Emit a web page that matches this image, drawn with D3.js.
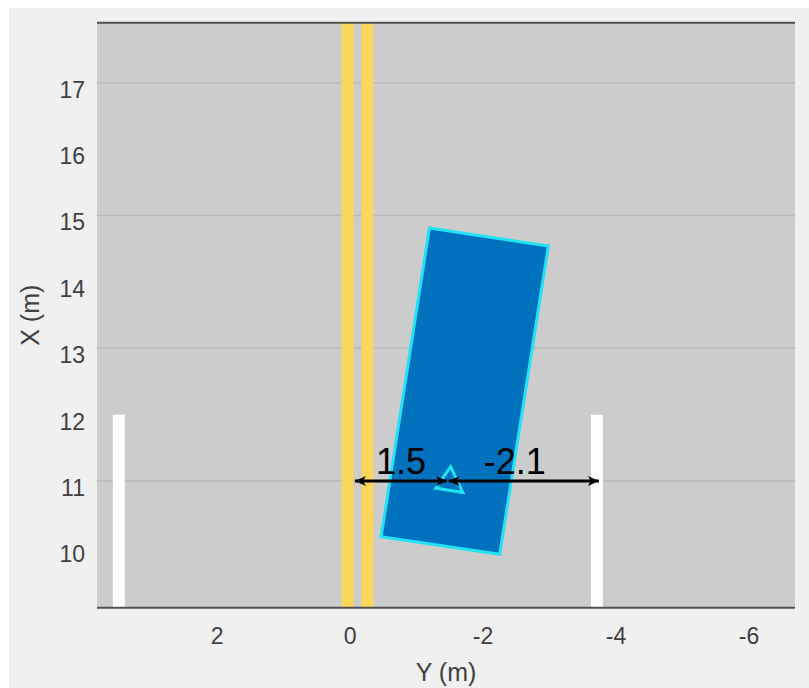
<!DOCTYPE html>
<html><head><meta charset="utf-8">
<script src="https://cdn.jsdelivr.net/npm/d3@7"></script>
<style>
html,body{margin:0;padding:0;background:#fff;}
svg{display:block;font-family:"Liberation Sans",Arial,sans-serif;}
</style></head>
<body>
<script>
// ---- data ----
const yTicks = [2, 0, -2, -4, -6];             // lateral Y (m), horizontal axis
const xTicks = [10, 11, 12, 13, 14, 15, 16, 17]; // longitudinal X (m), vertical axis
const gridX = [11, 13, 15, 17];
const yLimits = [3.80, -6.70];
const xLimits = [9.093, 17.903];
// yellow centre lines (lateral centre positions, m)
const yellowY = [0.03, -0.27];
const markingHalfWidth = 0.09;
// white lane boundaries
const whiteY = [3.472, -3.72];
const whiteTopX = 12.0;
// vehicle outline corners [Y, X]
const vehicleY = [-1.20, -2.99, -2.258, -0.474];
const vehicleX = [14.81, 14.54, 9.897, 10.16];
// heading triangle [Y, X]
const triY = [-1.52, -1.296, -1.703];
const triX = [11.217, 10.895, 10.827];
// distance arrows
const arrowX = 11;
const arrowFromY = [-0.08, -1.49];
const arrowToY = [-1.465, -3.75];
const arrowLabels = ["1.5", "-2.1"];
const labelY = [-0.775, -2.483];
const labelX = 11.105;

const W = 809, H = 688;
const plot = {left: 97, right: 795, top: 22.7, bottom: 607.7};

const svg = d3.select("body").append("svg").attr("width", W).attr("height", H);
svg.append("rect").attr("x", 9).attr("y", 8).attr("width", W - 9).attr("height", H - 8).attr("fill", "#f0f0f0");

const sx = d3.scaleLinear().domain(yLimits).range([plot.left, plot.right]);
const sy = d3.scaleLinear().domain(xLimits).range([plot.bottom, plot.top]);

const defs = svg.append("defs");
defs.append("clipPath").attr("id", "clip").append("rect")
  .attr("x", plot.left).attr("y", plot.top).attr("width", plot.right - plot.left).attr("height", plot.bottom - plot.top);
defs.append("marker").attr("id", "ah").attr("viewBox", "-12 -6 14 12")
  .attr("refX", 0).attr("refY", 0).attr("markerWidth", 14).attr("markerHeight", 12)
  .attr("markerUnits", "userSpaceOnUse").attr("orient", "auto-start-reverse")
  .append("path").attr("d", "M0,0 L-11,-5 L-8,0 L-11,5 Z").attr("fill", "#000");

svg.append("rect").attr("x", plot.left).attr("y", plot.top)
  .attr("width", plot.right - plot.left).attr("height", plot.bottom - plot.top).attr("fill", "#cccccc");

const g = svg.append("g").attr("clip-path", "url(#clip)");

// grid lines
g.selectAll("line.grid").data(gridX).join("line").attr("class", "grid")
  .attr("x1", plot.left).attr("x2", plot.right)
  .attr("y1", d => sy(d)).attr("y2", d => sy(d))
  .attr("stroke", "#b9b9b9").attr("stroke-width", 1.5);

// yellow lines
g.selectAll("rect.yellow").data(yellowY).join("rect").attr("class", "yellow")
  .attr("x", d => sx(d + markingHalfWidth)).attr("width", d => sx(d - markingHalfWidth) - sx(d + markingHalfWidth))
  .attr("y", plot.top).attr("height", plot.bottom - plot.top).attr("fill", "#fad65a");

// white boundaries
g.selectAll("rect.white").data(whiteY).join("rect").attr("class", "white")
  .attr("x", d => sx(d + markingHalfWidth)).attr("width", d => sx(d - markingHalfWidth) - sx(d + markingHalfWidth))
  .attr("y", sy(whiteTopX)).attr("height", plot.bottom - sy(whiteTopX)).attr("fill", "#ffffff");

// vehicle
const line = d3.line().x(d => sx(d[0])).y(d => sy(d[1]));
const veh = vehicleY.map((v, i) => [v, vehicleX[i]]);
g.append("path").attr("d", line(veh) + "Z").attr("fill", "#0072bd")
  .attr("stroke", "#22e2f6").attr("stroke-width", 3).attr("stroke-linejoin", "miter");
const tri = triY.map((v, i) => [v, triX[i]]);
g.append("path").attr("d", line(tri) + "Z").attr("fill", "none")
  .attr("stroke", "#22e2f6").attr("stroke-width", 3);

// arrows
g.selectAll("line.arrow").data(arrowFromY).join("line").attr("class", "arrow")
  .attr("x1", d => sx(d)).attr("x2", (d, i) => sx(arrowToY[i]))
  .attr("y1", sy(arrowX)).attr("y2", sy(arrowX))
  .attr("stroke", "#000").attr("stroke-width", 3)
  .attr("marker-start", "url(#ah)").attr("marker-end", "url(#ah)");
g.selectAll("text.lbl").data(arrowLabels).join("text").attr("class", "lbl")
  .attr("x", (d, i) => sx(labelY[i])).attr("y", sy(labelX))
  .attr("text-anchor", "middle").attr("font-size", 36).attr("fill", "#000").text(d => d);

// axes lines top & bottom
svg.append("line").attr("x1", plot.left).attr("x2", plot.right).attr("y1", plot.top).attr("y2", plot.top)
  .attr("stroke", "#505050").attr("stroke-width", 2);
svg.append("line").attr("x1", plot.left).attr("x2", plot.right).attr("y1", plot.bottom).attr("y2", plot.bottom)
  .attr("stroke", "#505050").attr("stroke-width", 2);

// bottom axis
const ax = svg.append("g").attr("transform", `translate(0,${plot.bottom})`)
  .call(d3.axisBottom(sx).tickValues(yTicks).tickSize(0).tickPadding(0).tickFormat(d => String(d)));
ax.select(".domain").remove();
ax.selectAll("text").attr("font-size", 23).attr("fill", "#404040").attr("dy", "1.6em")
  .attr("font-family", "Liberation Sans, Arial, sans-serif");

// left axis
const ay = svg.append("g").attr("transform", `translate(${plot.left},0)`)
  .call(d3.axisLeft(sy).tickValues(xTicks).tickSize(0).tickPadding(12));
ay.select(".domain").remove();
ay.selectAll("text").attr("font-size", 23).attr("fill", "#404040").attr("dy", "0.63em")
  .attr("font-family", "Liberation Sans, Arial, sans-serif");

// axis labels
svg.append("text").attr("x", (plot.left + plot.right) / 2).attr("y", 681)
  .attr("text-anchor", "middle").attr("font-size", 25).attr("fill", "#404040").text("Y (m)");
svg.append("text").attr("transform", `translate(39,${(plot.top + plot.bottom) / 2}) rotate(-90)`)
  .attr("text-anchor", "middle").attr("font-size", 25).attr("fill", "#404040").text("X (m)");
</script>
</body></html>
